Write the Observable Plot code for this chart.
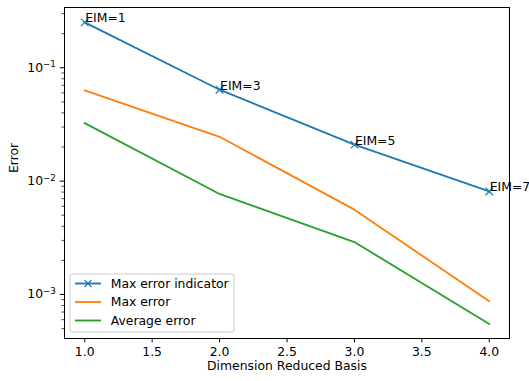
<!DOCTYPE html>
<html><head><meta charset="utf-8">
<script src="https://cdn.jsdelivr.net/npm/d3@7"></script>
<script src="https://cdn.jsdelivr.net/npm/@observablehq/plot@0.6"></script>
<style>body{margin:0;background:#fff} #chart{position:relative;width:529px;height:381px}</style>
</head><body><div id="chart"></div>
<script>
const dims = [1, 2, 3, 4];
const maxErrorIndicator = [0.251, 0.064, 0.021, 0.0081];
const maxError = [0.063, 0.0246, 0.0056, 0.00087];
const averageError = [0.0325, 0.0077, 0.0029, 0.00055];
const eimLabels = ["EIM=1", "EIM=3", "EIM=5", "EIM=7"];
const seriesNames = ["Max error indicator", "Max error", "Average error"];
const seriesColors = ["#1f77b4", "#ff7f0e", "#2ca02c"];
const xTicks = [1, 1.5, 2, 2.5, 3, 3.5, 4];
const yMajorTicks = [1e-3, 1e-2, 1e-1];
const xDomain = [0.85, 4.15];
const yDomain = [4.09e-4, 0.34];

const seriesValues = [maxErrorIndicator, maxError, averageError];
const rows = seriesNames.flatMap((name, s) => dims.map((d, i) => ({series: name, x: d, y: seriesValues[s][i]})));
const indicatorRows = dims.map((d, i) => ({x: d, y: maxErrorIndicator[i], label: eimLabels[i]}));

const yMinorTicks = [];
for (let e = -4; e <= -1; e++) for (let m = 2; m <= 9; m++) {
  const v = m * Math.pow(10, e);
  if (v >= yDomain[0] && v <= yDomain[1]) yMinorTicks.push(v);
}

const fmtX = d => d.toFixed(1);
const FS = 12.4;

const plot = Plot.plot({
  width: 529, height: 381,
  marginLeft: 64, marginRight: 20, marginTop: 7, marginBottom: 43,
  style: {fontFamily: "DejaVu Sans", fontSize: FS + "px", color: "black", background: "white", overflow: "visible"},
  x: {domain: xDomain},
  y: {type: "log", domain: yDomain},
  color: {domain: seriesNames, range: seriesColors},
  marks: [
    Plot.line(rows, {x: "x", y: "y", z: "series", stroke: "series", strokeWidth: 1.85}),
    Plot.dot(indicatorRows, {x: "x", y: "y", symbol: "times", r: 3.5, stroke: seriesColors[0], strokeWidth: 1.2}),
    Plot.text(indicatorRows, {x: "x", y: "y", text: "label", textAnchor: "start", lineAnchor: "bottom", dx: 0.5, fill: "black", fontSize: FS}),
    Plot.frame({stroke: "black", strokeWidth: 1}),
    Plot.axisX({ticks: xTicks, tickFormat: fmtX, tickSize: 4.3, tickPadding: 4.3, strokeWidth: 1, label: null, fontSize: FS}),
    Plot.axisY({ticks: yMajorTicks, tickFormat: d => "10^" + Math.round(Math.log10(d)), tickSize: 4.3, tickPadding: 4.3, strokeWidth: 1, label: null, fontSize: FS}),
    Plot.axisY({ticks: yMinorTicks, tickFormat: () => "", tickSize: 2.5, strokeWidth: 0.7, label: null}),
    Plot.text([0], {frameAnchor: "left", text: () => "Error", rotate: -90, dx: -50, fontSize: FS, fill: "black"}),
    Plot.text([0], {frameAnchor: "bottom", text: () => "Dimension Reduced Basis", dy: 31, fontSize: FS, fill: "black"})
  ]
});

const svg = d3.select(plot);
svg.selectAll("text").each(function() {
  const t = d3.select(this);
  const s = t.text();
  const m = /^10\^(-?\d+)$/.exec(s);
  if (m) {
    t.text(null);
    t.append("tspan").text("10");
    t.append("tspan").attr("dy", "-0.5em").attr("font-size", "8.7px").text(m[1].replace("-", "\u2212"));
  }
});

// legend inside the axes, lower-left
const lg = svg.append("g").attr("font-family", "DejaVu Sans").attr("font-size", FS).attr("text-anchor", "start");
lg.append("rect").attr("x", 70).attr("y", 274).attr("width", 164).attr("height", 58).attr("rx", 2.5)
  .attr("fill", "white").attr("fill-opacity", 0.8).attr("stroke", "#cccccc").attr("stroke-width", 1);
seriesNames.forEach((name, i) => {
  const y = 283.5 + 18.5 * i;
  lg.append("line").attr("x1", 75).attr("x2", 101).attr("y1", y).attr("y2", y)
    .attr("stroke", seriesColors[i]).attr("stroke-width", 1.85);
  if (i === 0) {
    lg.append("path").attr("d", "M-3.5,-3.5L3.5,3.5M-3.5,3.5L3.5,-3.5").attr("transform", `translate(88,${y})`)
      .attr("stroke", seriesColors[i]).attr("stroke-width", 1.2).attr("fill", "none");
  }
  lg.append("text").attr("x", 110.7).attr("y", y).attr("dy", "0.36em").attr("fill", "black").attr("text-anchor", "start").text(name);
});

document.getElementById("chart").appendChild(plot);
</script>
</body></html>
